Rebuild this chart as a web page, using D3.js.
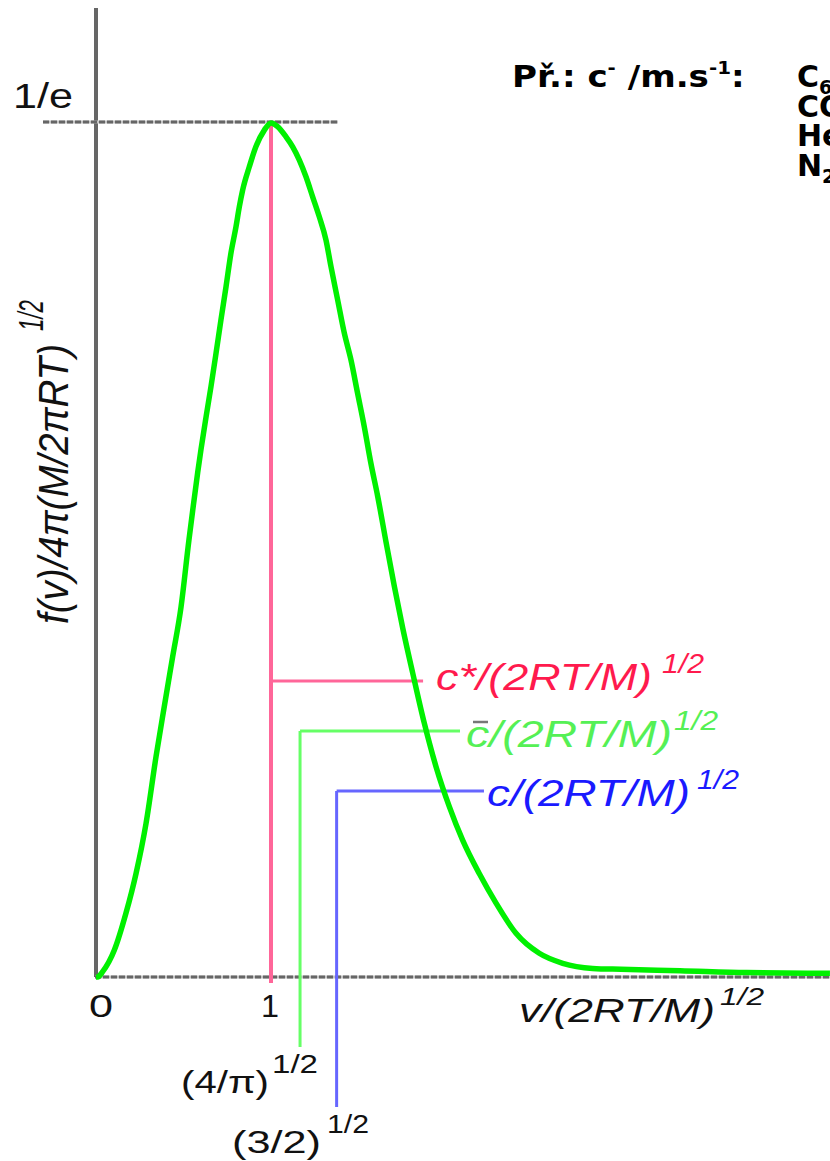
<!DOCTYPE html>
<html><head><meta charset="utf-8">
<script src="https://cdn.jsdelivr.net/npm/d3@7"></script>
<style>html,body{margin:0;padding:0;background:#fff;overflow:hidden}</style>
</head><body><svg id="c" width="830" height="1161"></svg>
<script>
// ---- data ----
const curveX = [0, 0.010, 0.038, 0.105, 0.171, 0.229, 0.286, 0.343, 0.390, 0.438, 0.486, 0.531, 0.553, 0.581, 0.600, 0.629, 0.657, 0.686, 0.714, 0.743, 0.771, 0.800, 0.819, 0.838, 0.876, 0.914, 0.962, 1.000, 1.038, 1.086, 1.124, 1.162, 1.200, 1.238, 1.276, 1.314, 1.343, 1.381, 1.419, 1.457, 1.495, 1.533, 1.571, 1.610, 1.657, 1.705, 1.753, 1.810, 1.876, 1.943, 2.019, 2.095, 2.190, 2.286, 2.400, 2.533, 2.667, 2.838, 3.000, 3.337, 3.718, 4.194];
const curveY = [0, 0.0000, 0.0023, 0.0116, 0.0274, 0.0446, 0.0661, 0.0948, 0.1163, 0.1378, 0.1593, 0.1880, 0.2010, 0.2170, 0.2270, 0.2410, 0.2540, 0.2684, 0.2827, 0.2970, 0.3114, 0.3228, 0.3314, 0.3386, 0.3486, 0.3573, 0.3644, 0.3675, 0.3659, 0.3615, 0.3572, 0.3515, 0.3443, 0.3357, 0.3271, 0.3172, 0.3056, 0.2913, 0.2770, 0.2655, 0.2511, 0.2368, 0.2210, 0.2067, 0.1873, 0.1680, 0.1500, 0.1307, 0.1092, 0.0905, 0.0733, 0.0589, 0.0445, 0.0318, 0.0188, 0.0102, 0.0059, 0.0037, 0.0033, 0.0027, 0.0019, 0.0016];

const markerNames = ["c*", "c\u0304", "c"];
const markerX = [1.000, 1.166, 1.375];      // vertical position on v/(2RT/M)^1/2
const markerY = [0.1274, 0.1058, 0.0800];   // height of horizontal leader
const markerEndX = [1.869, 2.080, 2.217];   // where leader ends
const markerFootY = [-0.0026, -0.0301, -0.0559]; // lower end of vertical
const markerTickLabels = [null, "(4/\u03c0)", "(3/2)"];

const xTickValues = [0, 1];
const xTickLabels = ["0", "1"];
const yTickValues = [0.36788];
const yTickLabels = ["1/e"];

const gasNames = ["C", "CO", "He", "N"];
const gasSubs = ["6", "2", "", "2"];

// ---- layout ----
const W = 830, H = 1161;
const svg = d3.select("#c");
const x = d3.scaleLinear().domain([0, 1]).range([96, 271]);
const y = d3.scaleLinear().domain([0, 0.36788]).range([977, 122]);

const FONT = "'Liberation Sans', Arial, sans-serif";
function txt(parent, s, px, py, o) {
  const t = parent.append("text").attr("x", px).attr("y", py).text(s)
    .attr("font-family", o.family || FONT)
    .attr("font-size", o.size).attr("fill", o.fill || "#111");
  if (o.italic) t.attr("font-style", "italic");
  if (o.weight) t.attr("font-weight", o.weight);
  if (o.len) t.attr("textLength", o.len).attr("lengthAdjust", "spacingAndGlyphs");
  if (o.anchor) t.attr("text-anchor", o.anchor);
  if (o.transform) t.attr("transform", o.transform);
  return t;
}
function dashed(x1, x2, py) {
  svg.append("line").attr("x1", x1).attr("x2", x2).attr("y1", py).attr("y2", py)
    .attr("stroke", "#c4c4c4").attr("stroke-width", 3);
  svg.append("line").attr("x1", x1).attr("x2", x2).attr("y1", py).attr("y2", py)
    .attr("stroke", "#666").attr("stroke-width", 3).attr("stroke-dasharray", "6,2");
}

// axes
svg.append("line").attr("x1", x(0)).attr("x2", x(0)).attr("y1", 8).attr("y2", y(0))
  .attr("stroke", "#666").attr("stroke-width", 4);
dashed(43, 338, y(yTickValues[0]));
dashed(95, W, y(0));

// marker lines
const markerColors = ["#ff6699", "#66ff66", "#6666ff"];
markerX.forEach((mx, i) => {
  const top = i === 0 ? yTickValues[0] : markerY[i];
  svg.append("line").attr("x1", x(mx)).attr("x2", x(mx))
    .attr("y1", y(top)).attr("y2", y(markerFootY[i]))
    .attr("stroke", markerColors[i]).attr("stroke-width", i === 0 ? 4 : 3);
  svg.append("line").attr("x1", x(mx)).attr("x2", x(markerEndX[i]))
    .attr("y1", y(markerY[i])).attr("y2", y(markerY[i]))
    .attr("stroke", markerColors[i]).attr("stroke-width", 3);
});

// curve
const pts = curveX.map((v, i) => [v, curveY[i]]);
svg.append("path").datum(pts)
  .attr("d", d3.line().x(d => x(d[0])).y(d => y(d[1])).curve(d3.curveMonotoneX))
  .attr("fill", "none").attr("stroke", "#00f000").attr("stroke-width", 5.5)
  .attr("stroke-linejoin", "round");

// tick labels
txt(svg, yTickLabels[0], 13, y(yTickValues[0]) - 14, {size: 35, len: 60});
txt(svg, xTickLabels[0], x(xTickValues[0]) - 7, 1017, {size: 32, len: 24});
txt(svg, xTickLabels[1], x(xTickValues[1]) - 1, 1017, {size: 32, len: 18, anchor: "middle"});
txt(svg, markerTickLabels[1], 181, 1093, {size: 31, len: 88});
txt(svg, "1/2", 272, 1073, {size: 25, len: 46});
txt(svg, markerTickLabels[2], 232, 1153, {size: 31, len: 89});
txt(svg, "1/2", 327, 1133, {size: 25, len: 42});

// axis titles
txt(svg, "v/(2RT/M)", 519, 1022, {size: 33, italic: true, len: 196});
txt(svg, "1/2", 720, 1005, {size: 24, italic: true, len: 44});
txt(svg, "f(v)/4\u03c0(M/2\u03c0RT)", 0, 0, {size: 33, italic: true, len: 280,
  transform: "translate(68,624) rotate(-90) scale(1,1.3)"});
txt(svg, "1/2", 0, 0, {size: 27, italic: true, len: 31,
  transform: "translate(43,331) rotate(-90) scale(1,1.3)"});

// marker labels
const labelColors = ["#ff1a4d", "#55f055", "#1a1aff"];
const labelPos = [[436, 690, 662, 673], [466, 747, 674, 730], [487, 806, 697, 789]];
const labelLen = [[216, 42], [206, 44], [203, 42]];
markerNames.forEach((n, i) => {
  const [lx, ly, sx, sy] = labelPos[i];
  const base = (i === 1 ? "c" : n) + "/(2RT/M)";
  txt(svg, base, lx, ly, {size: 37, italic: true, fill: labelColors[i], len: labelLen[i][0]});
  txt(svg, "1/2", sx, sy, {size: 27, italic: true, fill: labelColors[i], len: labelLen[i][1]});
});
// macron over mean-speed c
svg.append("line").attr("x1", 473).attr("x2", 488).attr("y1", 722).attr("y2", 722)
  .attr("stroke", "#777").attr("stroke-width", 2.5);

// example text (top right)
const BF = "'DejaVu Sans', Verdana, sans-serif";
const exG = svg.append("g").attr("transform", "translate(512,87) scale(1.1,1)");
const ex = exG.append("text").attr("x", 0).attr("y", 0)
  .attr("font-family", BF).attr("font-weight", "bold").attr("font-size", 31).attr("fill", "#000");
ex.append("tspan").text("P\u0159.: c");
ex.append("tspan").attr("font-size", 18).attr("dy", -13).text("-");
ex.append("tspan").attr("dy", 13).text(" /m.s");
ex.append("tspan").attr("font-size", 18).attr("dy", -13).text("-1");
ex.append("tspan").attr("dy", 13).text(":");

gasNames.forEach((g, i) => {
  const t = svg.append("text").attr("x", 797).attr("y", 87 + i * 29.5)
    .attr("font-family", BF).attr("font-weight", "bold").attr("font-size", 30).attr("fill", "#000");
  t.append("tspan").text(g);
  if (gasSubs[i]) t.append("tspan").attr("font-size", 19).attr("dy", 7).text(gasSubs[i]);
});
</script></body></html>
